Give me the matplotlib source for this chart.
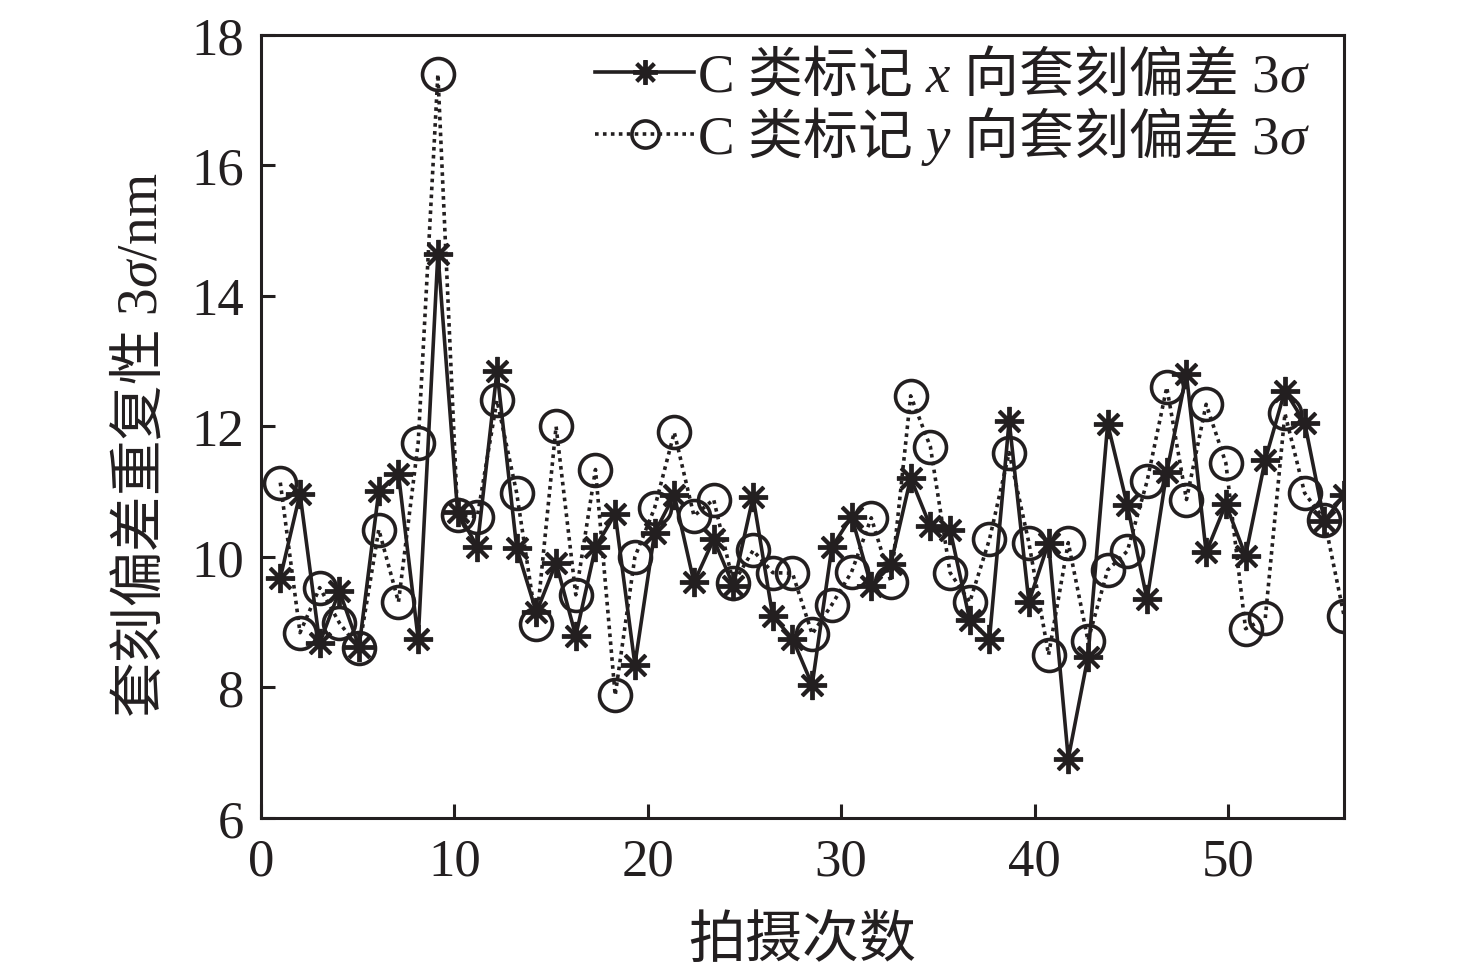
import numpy as np
import matplotlib
matplotlib.use('Agg')
import matplotlib.pyplot as plt

# 55 shots, plotted on a 1..56 axis as in the original figure
shots = np.linspace(1, 56, 55)

x_3sigma = [9.68, 10.97, 8.68, 9.48, 8.62, 11.01, 11.27, 8.74, 14.65, 10.69,
            10.16, 12.85, 10.14, 9.15, 9.91, 8.79, 10.15, 10.66, 8.35, 10.37,
            10.95, 9.61, 10.27, 9.56, 10.92, 9.09, 8.75, 8.04, 10.15, 10.62,
            9.55, 9.90, 11.21, 10.47, 10.42, 9.03, 8.74, 12.09, 9.31, 10.22,
            6.91, 8.47, 12.04, 10.79, 9.35, 11.30, 12.80, 10.07, 10.81, 10.02,
            11.49, 12.55, 12.06, 10.55, 10.95]

y_3sigma = [11.14, 8.84, 9.53, 8.99, 8.60, 10.42, 9.31, 11.75, 17.40, 10.64,
            10.62, 12.40, 10.98, 8.98, 12.00, 9.42, 11.34, 7.88, 10.00, 10.75,
            11.91, 10.63, 10.88, 9.60, 10.10, 9.76, 9.75, 8.82, 9.27, 9.77,
            10.60, 9.62, 12.47, 11.69, 9.76, 9.31, 10.27, 11.60, 10.22, 8.50,
            10.22, 8.72, 9.80, 10.09, 11.16, 12.60, 10.88, 12.34, 11.44, 8.90,
            9.06, 12.20, 10.98, 10.57, 9.10]

xticks = [0, 10, 20, 30, 40, 50]
yticks = [6, 8, 10, 12, 14, 16, 18]
# chinese parts go through \mathrm so mathtext picks the CJK font for them
label_x = r'C $\mathrm{类标记}$ $x$ $\mathrm{向套刻偏差}$ 3$\sigma$'
label_y = r'C $\mathrm{类标记}$ $y$ $\mathrm{向套刻偏差}$ 3$\sigma$'
ylab = r'$\mathrm{套刻偏差重复性}$ 3$\sigma$/nm'
xlab = '拍摄次数'

plt.rcParams['font.family'] = ['Liberation Serif', 'Noto Sans CJK SC']
plt.rcParams['mathtext.fontset'] = 'custom'
plt.rcParams['mathtext.it'] = 'Liberation Serif:italic'
plt.rcParams['mathtext.rm'] = 'Noto Sans CJK SC'
plt.rcParams['axes.unicode_minus'] = False

ink = '#231f20'

fig = plt.figure(figsize=(14.76, 9.78), dpi=100)
ax = fig.add_axes([0.1768, 0.1626, 0.7338, 0.8006])

ax.plot(shots, x_3sigma, color=ink, lw=2.6, ls='-',
        marker=(8, 2, 0), ms=21, mew=2.8, label=label_x)
ax.plot(shots, y_3sigma, color=ink, lw=2.6, ls=(0, (1, 1.2)),
        marker='o', ms=23, mew=2.6, mfc='none', label=label_y)

ax.set_xlim(0, 56)
ax.set_ylim(6, 18)
ax.set_xticks(xticks)
ax.set_yticks(yticks)
ax.tick_params(direction='in', length=10, width=2.2, labelsize=38,
               colors=ink, top=False, right=False)
ax.tick_params(axis='y', pad=12)
ax.tick_params(axis='x', pad=14)
for s in ax.spines.values():
    s.set_linewidth(2.2)
    s.set_color(ink)

ax.set_xlabel(xlab, fontsize=41, color=ink, labelpad=21)
ax.set_ylabel(ylab, fontsize=40, color=ink)
ax.yaxis.set_label_coords(-0.085, 0.477)

leg = ax.legend(loc='upper right', bbox_to_anchor=(0.9834, 1.004),
                frameon=False, fontsize=39.5, markerscale=0.85,
                handlelength=1.8, handletextpad=0.05, labelspacing=0.02,
                borderaxespad=0.1, borderpad=0.2)
for t in leg.get_texts():
    t.set_color(ink)

fig.savefig('out.png', dpi=100)
